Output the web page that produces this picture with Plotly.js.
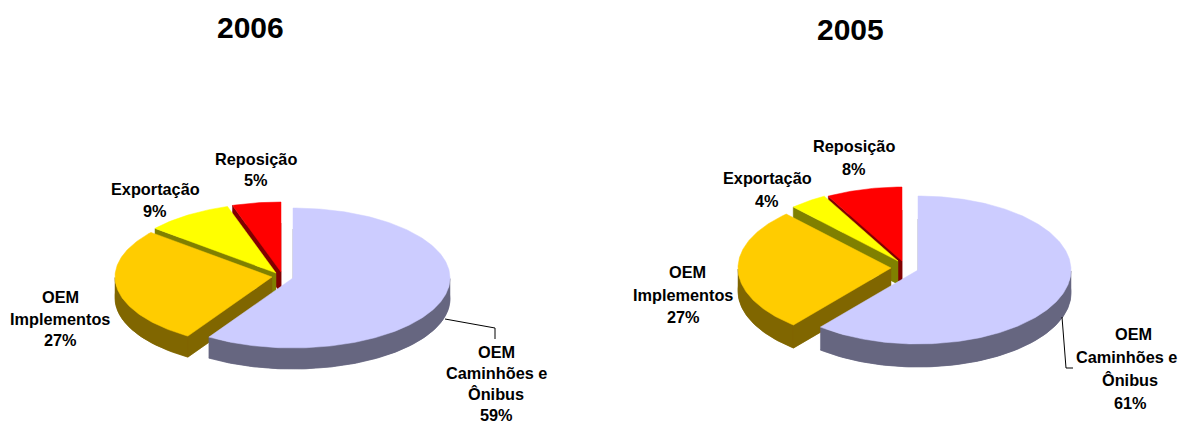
<!DOCTYPE html>
<html>
<head>
<meta charset="utf-8">
<script src="https://cdn.plot.ly/plotly-3.0.1.min.js"></script>
<style>html,body{margin:0;padding:0;background:#fff;overflow:hidden}</style>
</head>
<body>
<div id="chart" style="width:1178px;height:423px"></div>
<script>
// ---- data ----
const years = ["2006", "2005"];
const categories = ["OEM<br>Caminhões e<br>Ônibus", "OEM<br>Implementos", "Exportação", "Reposição"];
const values2006 = [59, 27, 9, 5];
const values2005 = [61, 27, 4, 8];

// ---- styles ----
const topColors = ["#CCCCFF", "#FFCC00", "#FFFF00", "#FF0000"];
const sideColors = ["#666680", "#806600", "#808000", "#800000"];
const FONT = "'Liberation Sans', Arial, sans-serif";

// ---- pie geometry (paper pixels) ----
const pie2006 = {
  a: 157, b: 70, depth: 21, lineHeight: 21.2,
  apex: [[293, 278], [272, 277], [276, 273], [281, 272]],
  labels: [[496, 383.5], [60, 318.5], [155, 200], [256, 169.5]],
  lineDx: [[0, 0, 0, 0], [0, 0, 0], [0, 0], [0, 0]],
  leader: { x: [445, 495, 495], y: [319, 328, 339] }
};
const pie2005 = {
  a: 153, b: 74, depth: 23, lineHeight: 22.8,
  apex: [[918, 270], [891, 268], [898, 261], [902, 261]],
  labels: [[1130, 368.5], [683, 294.5], [767, 189.5], [854, 157.5]],
  lineDx: [[3, -3.5, 0, 0], [4, 0, 0], [0, 0], [0, 0]],
  leader: { x: [1062, 1066, 1073], y: [317, 368, 368] }
};

const traces = [];
const annotations = [];

function polygon(xs, ys, color) {
  traces.push({
    type: "scatter", mode: "lines", x: xs.concat(xs[0]), y: ys.concat(ys[0]),
    fill: "toself", fillcolor: color, line: { color: color, width: 0.5 },
    hoverinfo: "skip", showlegend: false
  });
}

function drawPie(values, geo) {
  const total = values.reduce((s, v) => s + v, 0);
  let cum = 0;
  const slices = values.map((v, i) => {
    const s = { i, start: cum / total * 2 * Math.PI, end: (cum + v) / total * 2 * Math.PI };
    cum += v;
    return s;
  });
  // painter's order: back slices first, the large front slice last
  slices.slice().reverse().forEach(s => {
    const [cx, cy] = geo.apex[s.i];
    const arcX = [], arcY = [];
    const wallX = [], wallY = [];
    const n = Math.max(8, Math.ceil((s.end - s.start) * 60));
    for (let k = 0; k <= n; k++) {
      const t = s.start + (s.end - s.start) * k / n;
      const px = cx + geo.a * Math.sin(t);
      const py = cy - geo.b * Math.cos(t);
      arcX.push(px);
      arcY.push(py);
      if (Math.cos(t) <= 0) { wallX.push(px); wallY.push(py); }
    }
    const d = geo.depth;
    const side = sideColors[s.i];
    // extruded bottom sector
    polygon([cx].concat(arcX), [cy + d].concat(arcY.map(y => y + d)), side);
    // outer wall, only where it faces the viewer
    if (wallX.length > 1) {
      polygon(wallX.concat(wallX.slice().reverse()),
              wallY.concat(wallY.map(y => y + d).reverse()), side);
    }
    // cut faces, only where they face the viewer
    if (Math.sin(s.start) < -1e-6) {
      polygon([cx, arcX[0], arcX[0], cx], [cy, arcY[0], arcY[0] + d, cy + d], side);
    }
    if (Math.sin(s.end) > 1e-6) {
      polygon([cx, arcX[n], arcX[n], cx], [cy, arcY[n], arcY[n] + d, cy + d], side);
    }
    // top face
    polygon([cx].concat(arcX), [cy].concat(arcY), topColors[s.i]);
  });
  traces.push({
    type: "scatter", mode: "lines", x: geo.leader.x, y: geo.leader.y,
    line: { color: "#000000", width: 1 }, hoverinfo: "skip", showlegend: false
  });
  values.forEach((v, i) => {
    const lines = categories[i].split("<br>").concat(v + "%");
    lines.forEach((line, k) => {
      annotations.push({
        xref: "x", yref: "y",
        x: geo.labels[i][0] + geo.lineDx[i][k],
        y: geo.labels[i][1] + (k - (lines.length - 1) / 2) * geo.lineHeight,
        text: "<b>" + line + "</b>",
        showarrow: false, xanchor: "center", yanchor: "middle", align: "center",
        font: { family: FONT, size: 16.3, color: "#000000" }
      });
    });
  });
}

drawPie(values2006, pie2006);
drawPie(values2005, pie2005);

annotations.push(
  { xref: "x", yref: "y", x: 250, y: 27, text: "<b>" + years[0] + "</b>", showarrow: false,
    font: { family: FONT, size: 30, color: "#000000" } },
  { xref: "x", yref: "y", x: 850.5, y: 29, text: "<b>" + years[1] + "</b>", showarrow: false,
    font: { family: FONT, size: 30, color: "#000000" } }
);

const hidden = { visible: false, fixedrange: true };
Plotly.newPlot("chart", traces, {
  width: 1178, height: 423,
  margin: { l: 0, r: 0, t: 0, b: 0 },
  paper_bgcolor: "#FFFFFF", plot_bgcolor: "#FFFFFF",
  showlegend: false,
  xaxis: Object.assign({ range: [0, 1178] }, hidden),
  yaxis: Object.assign({ range: [423, 0] }, hidden),
  annotations: annotations
}, { displayModeBar: false, staticPlot: true });
</script>
</body>
</html>
